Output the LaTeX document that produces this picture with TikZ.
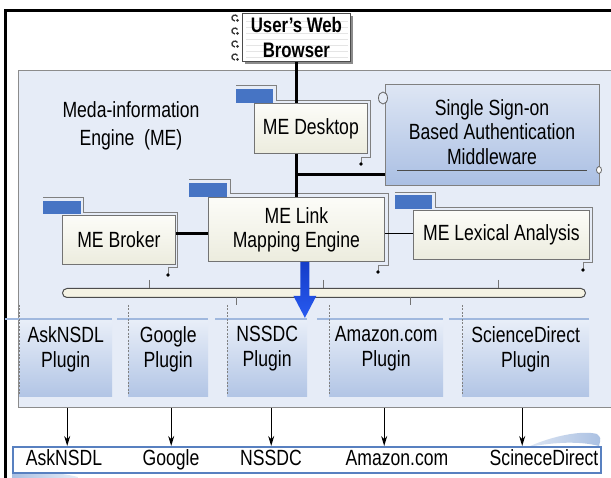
\documentclass[tikz,border=0pt]{standalone}
\usepackage{fontspec}
\setmainfont{Liberation Sans}[FakeStretch=0.8]
\usetikzlibrary{arrows.meta,calc}
\definecolor{panelfill}{RGB}{230,236,247}
\definecolor{panelline}{RGB}{140,140,140}
\definecolor{creamtop}{RGB}{252,252,248}
\definecolor{creambot}{RGB}{236,236,222}
\definecolor{tabblue}{RGB}{70,116,196}
\definecolor{ssotop}{RGB}{222,230,244}
\definecolor{ssobot}{RGB}{170,191,227}
\definecolor{plugtop}{RGB}{232,238,248}
\definecolor{plugbot}{RGB}{178,197,229}
\definecolor{plugline}{RGB}{160,184,222}
\definecolor{busfill}{RGB}{245,243,228}
\definecolor{destline}{RGB}{88,128,192}
\definecolor{arrowtop}{RGB}{20,60,200}
\definecolor{arrowbot}{RGB}{40,90,240}
\definecolor{swoosh}{RGB}{170,192,226}
\begin{document}
\begin{tikzpicture}[x=1pt,y=-1pt,
  every node/.style={font=\fontsize{22}{24}\selectfont, text=black, inner sep=0pt},
  mebox/.style={draw=black!55, line width=0.8pt, top color=creamtop, bottom color=creambot, align=center, anchor=north west},
  tabbox/.style={fill=tabblue},
  outl/.style={draw=black!50, line width=0.8pt},
  conn/.style={line width=3pt},
  thinconn/.style={line width=1.5pt},
  tick/.style={draw=black!55, line width=0.8pt},
  plug/.style={top color=plugtop, bottom color=plugbot, anchor=north west},
  plugtext/.style={align=center, font=\fontsize{22}{25}\selectfont},
  plugtopline/.style={draw=plugline, line width=1.2pt},
  plugdash/.style={draw=black!50, line width=0.5pt, dash pattern=on 2pt off 1.5pt},
  downarr/.style={line width=1.2pt, -{Stealth[length=10pt,width=6pt]}},
  desttext/.style={anchor=base},
  dot/.style={fill=black}]
\useasboundingbox (0,0) rectangle (611,478);
\fill[white] (0,0) rectangle (611,478);
% outer frame
\draw[line width=3pt] (5.5,478) -- (5.5,10.5) -- (611,10.5);
% panel
\node[draw=panelline, fill=panelfill, line width=1pt, anchor=north west, minimum width=600pt, minimum height=337pt] (panel) at (18,70) {};
\node[align=center, font=\fontsize{22}{28}\selectfont] (melabel) at (131,126) {Meda-information\\Engine~~(ME)};
% browser
\fill[black!45] (245,16) rectangle (353,64);
\node[draw=black!70, fill=white, line width=0.8pt, anchor=north west, minimum width=108pt, minimum height=48pt] (brow) at (242,13) {};
\foreach \yy in {21,27,33,39,45,51,57}{\draw[black!10, line width=0.4pt] (246,\yy) -- (348,\yy);}
\node[align=center, font=\fontsize{21}{25}\selectfont\bfseries] (browtext) at (brow.center) {User’s Web\\Browser};
\foreach \yy in {18,31,44,57}{\draw[black!80, line width=1.3pt] (237.5,\yy-1.5) arc[start angle=30, end angle=270, radius=3pt]; \fill[black!80] (237.5,\yy+2.5) circle (1.5pt);}
% ME Desktop
\draw[outl] (236,85) -- (276,85) -- (276,100) -- (370,100) -- (370,157) -- (361,157) -- (361,164);
\fill[dot] (361,164) circle (1.8pt);
\fill[tabbox] (236,89) rectangle (273,103);
\node[mebox, minimum width=113pt, minimum height=50pt] (desk) at (254,103) {ME Desktop};
% SSO
\node[draw=black!50, line width=0.8pt, top color=ssotop, bottom color=ssobot, anchor=north west, minimum width=214pt, minimum height=101pt] (sso) at (385,84) {};
\node[align=center, font=\fontsize{22}{24.5}\selectfont] (ssotext) at (492,132) {Single Sign-on\\Based Authentication\\Middleware};
\draw[black!60, line width=0.8pt, fill=panelfill] (383,98) ellipse (4.5pt and 6pt);
\draw[black!70, line width=0.8pt] (397,170) -- (587,170);
\draw[black!60, line width=0.8pt, fill=white] (599,170) ellipse (2.5pt and 3.5pt);
% ME Broker
\draw[outl] (43,197) -- (83,197) -- (83,212) -- (177,212) -- (177,267) -- (168,267) -- (168,275);
\fill[dot] (168,275) circle (1.8pt);
\fill[tabbox] (43,201) rectangle (81,214);
\node[mebox, minimum width=113pt, minimum height=49pt] (broker) at (62,215) {ME Broker};
% ME Link Mapping Engine
\draw[outl] (189,179) -- (230,179) -- (230,193) -- (388,193) -- (388,265) -- (378,265) -- (378,272);
\fill[dot] (378,272) circle (1.8pt);
\fill[tabbox] (189,183) rectangle (227,197);
\node[mebox, minimum width=176pt, minimum height=64pt] (lme) at (208,197) {ME Link\\Mapping Engine};
% ME Lexical Analysis
\draw[outl] (395,192) -- (435,192) -- (435,207) -- (592,207) -- (592,262) -- (583,262) -- (583,270);
\fill[dot] (583,270) circle (1.8pt);
\fill[tabbox] (395,195) rectangle (432,209);
\node[mebox, minimum width=176pt, minimum height=49pt] (lex) at (413,210) {ME Lexical Analysis};
% connectors
\draw[conn] (brow.south) -- (brow.south |- desk.north);
\draw[conn] (lme.north |- desk.south) -- (lme.north);
\coordinate (junc) at (297,175);
\draw[conn] (junc) -- (junc -| sso.west);
\draw[conn] ([yshift=-4pt]lme.west) -- ([yshift=-4pt]lme.west -| broker.east);
\draw[thinconn] ([yshift=-4pt]lme.east) -- ([yshift=-4pt]lme.east -| lex.west);
% bus
\node[draw=black!70, fill=busfill, line width=1pt, rounded corners=4.5pt, anchor=north west, minimum width=523pt, minimum height=9pt] (bus) at (62,288) {};
\foreach \xx in {149,323,498}{\draw[tick] (\xx,280) -- (\xx,288);}
\foreach \xx in {236,410}{\draw[tick] (\xx,297) -- (\xx,305);}
% plugins
\draw[plugtopline] (5,319) -- (112,319);
\draw[plugtopline] (117,319) -- (208,319);
\draw[plugtopline] (215,319) -- (307,319);
\draw[plugtopline] (317,319) -- (443,319);
\draw[plugtopline] (449,319) -- (589,319);
\node[plug, minimum width=93pt, minimum height=76pt] (p1) at (19,320) {};
\node[plug, minimum width=80pt, minimum height=76pt] (p2) at (128,320) {};
\node[plug, minimum width=80pt, minimum height=76pt] (p3) at (227,320) {};
\node[plug, minimum width=114pt, minimum height=76pt] (p4) at (329,320) {};
\node[plug, minimum width=127pt, minimum height=76pt] (p5) at (462,320) {};
\node[plugtext] (t1) at (p1.center |- 0,349) {AskNSDL\\Plugin};
\node[plugtext] (t2) at (p2.center |- 0,349) {Google\\Plugin};
\node[plugtext] (t3) at (p3.center |- 0,349) {NSSDC\\Plugin};
\node[plugtext] (t4) at (p4.center |- 0,349) {Amazon.com\\Plugin};
\node[plugtext] (t5) at (p5.center |- 0,349) {ScienceDirect\\Plugin};
\foreach \xx in {19,128,227,329,462}{\draw[plugdash] (\xx,305) -- (\xx,395);}
% blue arrow
\shade[top color=arrowtop, bottom color=arrowbot] ($(lme.south)+(4,0)$) -- ++(9,0) -- ++(0,34) -- ++(7,0) -- ++(-11.5,22) -- ++(-11.5,-22) -- ++(7,0) -- cycle;
% swooshes
\shade[left color=swoosh!40, right color=swoosh] (528,447) .. controls (552,436) and (582,430) .. (597,434) .. controls (601,438) .. (599,446) .. controls (580,441) and (555,442) .. (528,447) -- cycle;
\shade[left color=swoosh, right color=swoosh!30] (12,478) -- (12,474) .. controls (30,471) and (58,472) .. (78,477) -- (78,478) -- cycle;
% destinations
\node[draw=destline, fill=white, line width=1.6pt, anchor=north west, minimum width=588pt, minimum height=26pt] (dest) at (12,446) {};
\node[desttext] (d1) at (64,466) {AskNSDL};
\node[desttext] (d2) at (171,466) {Google};
\node[desttext] (d3) at (271,466) {NSSDC};
\node[desttext] (d4) at (397,466) {Amazon.com};
\node[desttext] (d5) at (544,466) {ScineceDirect};
\draw[downarr] ([xshift=1.5pt]p1.south |- panel.south) -- ([xshift=1.5pt]p1.south |- dest.north);
\draw[downarr] ([xshift=3pt]p2.south |- panel.south) -- ([xshift=3pt]p2.south |- dest.north);
\draw[downarr] ([xshift=4pt]p3.south |- panel.south) -- ([xshift=4pt]p3.south |- dest.north);
\draw[downarr] ([xshift=-2pt]p4.south |- panel.south) -- ([xshift=-2pt]p4.south |- dest.north);
\draw[downarr] ([xshift=-3.5pt]p5.south |- panel.south) -- ([xshift=-3.5pt]p5.south |- dest.north);
\end{tikzpicture}
\end{document}
